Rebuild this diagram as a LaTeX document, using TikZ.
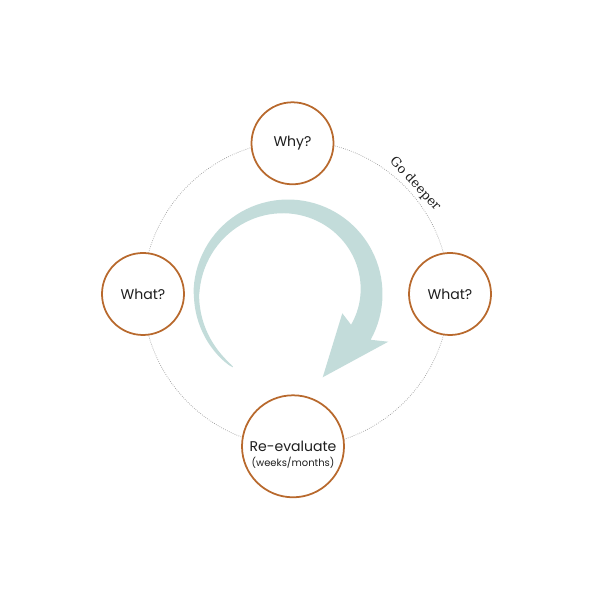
\documentclass[tikz,border=0pt]{standalone}
\usepackage{fontspec}
\setmainfont{Poppins}
\newfontfamily\deeperfont{DejaVu Serif}
\usepackage{tikz}

\definecolor{rim}{HTML}{B8692D}
\definecolor{sea}{HTML}{C3DCDA}
\definecolor{ink}{HTML}{1E1E1E}

\begin{document}
\begin{tikzpicture}[x=0.03cm, y=0.03cm,
  stage/.style={circle, draw=rim, line width=1.5pt, fill=white, minimum size=2.46cm, inner sep=0pt, text=ink, font=\fontsize{12}{14}\selectfont}]

\useasboundingbox (0,0) rectangle (593,601);

%\draw (0,0) grid (593,601);

\coordinate (mid) at (296,307);
\draw [gray!80, dash pattern=on 0.6pt off 1.2pt, line width=0.6pt] (mid) circle (4.59cm);

% the arrow, thin tail on the left, head on the right
\fill [sea, shift={(288,307)}]
  plot [domain=232.9:180, samples=30] (\x:{91.5+2.65*((233-\x)/53)^0.35})
  -- plot [domain=180:-29, samples=60] (\x:94.5)
  -- (100.3,-47.7) -- (34.7,-83.3) -- (54.3,-19.3)
  -- plot [domain=-26:180, samples=60] (\x:{72.5+0.09*\x})
  -- plot [domain=180:232.9, samples=30] (\x:{91.5-2.65*((233-\x)/53)^0.35})
  -- cycle;

\node [stage] (why) at (292.5,457.7) {Why?};
\node [stage] (whatL) at (143,307) {What?};
\node [stage] (whatR) at (450,307) {What?};
\node [stage, minimum size=3.06cm] (reeval) at (293,154.7) {Re-evaluate};
\node [text=ink, font=\fontsize{8.5}{10}\selectfont] (weeks) at (293,138.7) {(weeks/months)};

\node [rotate=-47, text=ink, font=\deeperfont\fontsize{11}{13}\selectfont] (deeper) at (415,417) {Go deeper};

\end{tikzpicture}
\end{document}
